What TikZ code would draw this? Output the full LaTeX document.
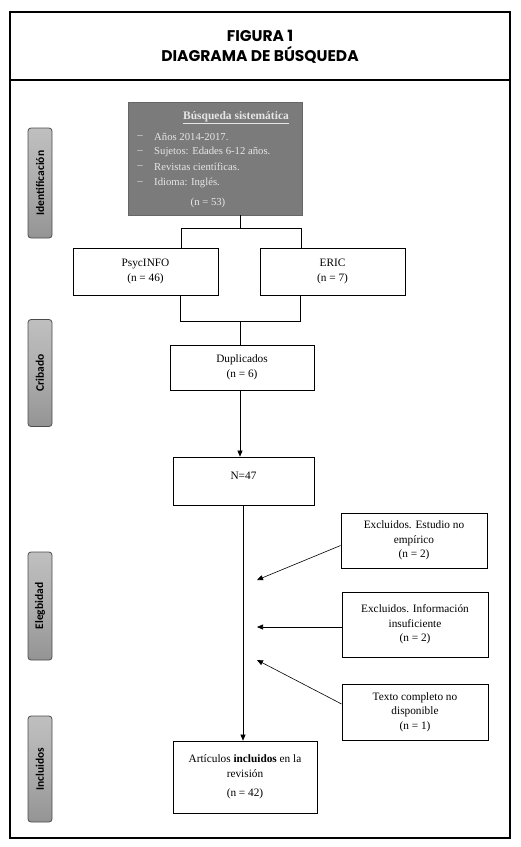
\documentclass[tikz,border=0pt]{standalone}
\usepackage{fontspec}
\setmainfont{Liberation Serif}
\newfontfamily\titlefont{Poppins}
\newfontfamily\labelfont{Carlito}
\usetikzlibrary{arrows.meta,calc}
\definecolor{boxgray}{HTML}{7B7B7B}
\definecolor{graytxt}{HTML}{E6E6E6}
\tikzset{
  box/.style={draw, line width=0.8pt, fill=white, align=center, inner sep=0pt,
    font=\fontsize{11.3}{14.5}\selectfont},
  phase/.style={draw=black!70, line width=0.8pt, rounded corners=3pt,
    top color=black!25, bottom color=black!42, middle color=black!32, minimum height=24pt,
    inner sep=0pt, rotate=90, text=black,
    font=\labelfont\bfseries\fontsize{11.5}{12}\selectfont},
  gtxt/.style={text=graytxt, inner sep=0pt, font=\fontsize{10.7}{12}\selectfont},
  conn/.style={line width=0.6pt},
  arr/.style={conn, -{Triangle[length=6pt,width=5pt]}},
}
\begin{document}
\begin{tikzpicture}[x=1pt,y=-1pt]
\useasboundingbox (0,0) rectangle (521,847);
% frame
\draw[line width=1.6pt] (10,12) rectangle (510,838);
\draw[line width=1.6pt] (10,80) -- (510,80);
\node[font=\titlefont\bfseries\fontsize{15.5}{20}\selectfont, align=center] (title) at (260,47)
  {FIGURA 1\\DIAGRAMA DE BÚSQUEDA};
% phases
\node[phase, minimum width=110pt] (p1) at (40,183) {Identificación};
\node[phase, minimum width=107pt] (p2) at (40,373) {Cribado};
\node[phase, minimum width=108pt] (p3) at (40,606) {Elegbidad};
\node[phase, minimum width=106pt] (p4) at (40,769) {Incluidos};
% search box
\node[draw=black!60, line width=0.6pt, fill=boxgray, minimum width=174pt, minimum height=113pt, inner sep=0pt] (search) at (215,158.5) {};
\node[gtxt, font=\bfseries\fontsize{11.5}{12}\selectfont] (stitle) at (236,118) {\underline{Búsqueda sistemática}};
\node[gtxt] (d1) at (140,137) {–};
\node[gtxt] (d2) at (140,152) {–};
\node[gtxt] (d3) at (140,167) {–};
\node[gtxt] (d4) at (140,183) {–};
\node[gtxt, anchor=west] (s1) at (154,137) {Años 2014-2017.};
\node[gtxt, anchor=west] (s2) at (154,152) {Sujetos: Edades 6-12 años.};
\node[gtxt, anchor=west] (s3) at (154,167) {Revistas científicas.};
\node[gtxt, anchor=west] (s4) at (154,183) {Idioma: Inglés.};
\node[gtxt] (sn) at (208,203) {(n = 53)};
% database boxes
\node[box, minimum width=145pt, minimum height=47pt] (psyc) at (145.5,271.5) {PsycINFO\\(n = 46)};
\node[box, minimum width=145pt, minimum height=47pt] (eric) at (332.5,271.5) {ERIC\\(n = 7)};
% junctions
\coordinate (jt) at (240,228);
\coordinate (jtl) at (181,228);
\coordinate (jtr) at (301,228);
\coordinate (jb) at (240,321);
\coordinate (jbl) at (180,321);
\coordinate (jbr) at (300,321);
\draw[conn] (search.south -| jt) -- (jt);
\draw[conn] (jtl) -- (jtr);
\draw[conn] (jtl) -- (jtl |- psyc.north);
\draw[conn] (jtr) -- (jtr |- eric.north);
\draw[conn] (jbl |- psyc.south) -- (jbl) -- (jbr) -- (jbr |- eric.south);
% duplicates
\node[box, minimum width=144pt, minimum height=45pt] (dup) at (242,367.5) {Duplicados\\(n = 6)};
\draw[conn] (jb) -- (jb |- dup.north);
\node[box, minimum width=141pt, minimum height=48pt, text depth=10pt] (n47) at (243.5,481) {N=47};
\draw[arr] (dup.south -| jb) -- (jb |- n47.north);
% final
\node[box, minimum width=144pt, minimum height=72pt] (inc) at (245,777)
  {Artículos \textbf{incluidos} en la\\revisión\\[5pt](n = 42)};
\coordinate (vx) at (243,505);
\draw[arr] (vx |- n47.south) -- (vx |- inc.north);
% exclusions
\node[box, minimum width=146pt, minimum height=55pt] (ex1) at (414,540.5) {Excluidos. Estudio no\\empírico\\(n = 2)};
\node[box, minimum width=146pt, minimum height=65pt] (ex2) at (415,624.5) {Excluidos. Información\\insuficiente\\(n = 2)};
\node[box, minimum width=146pt, minimum height=56pt] (ex3) at (415,712) {Texto completo no\\disponible\\(n = 1)};
\coordinate (a1) at (257,580);
\coordinate (a2) at (257,627);
\coordinate (a3) at (257,660);
\draw[arr] ($(ex1.west)+(0,5)$) -- (a1);
\draw[arr] (ex2.west |- a2) -- (a2);
\draw[arr] ($(ex3.west)+(0,-8)$) -- (a3);
\end{tikzpicture}
\end{document}
